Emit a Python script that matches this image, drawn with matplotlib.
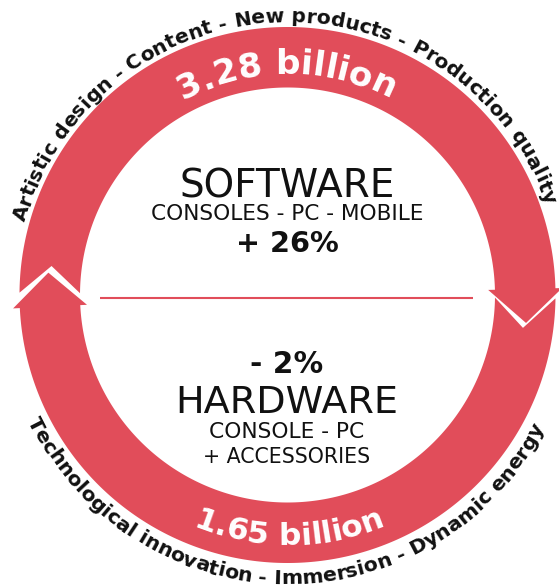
import numpy as np
import matplotlib
matplotlib.use("Agg")
import matplotlib.pyplot as plt
from matplotlib.patches import Polygon
from matplotlib.font_manager import FontProperties, findfont, get_font

# video game market: revenue (billion) and yearly growth (%) per segment
segments = ["SOFTWARE", "HARDWARE"]
platforms = [["CONSOLES - PC - MOBILE"], ["CONSOLE - PC", "+ ACCESSORIES"]]
revenue_billion = [3.28, 1.65]
growth_pct = [26, -2]
drivers = [
    "Artistic design - Content - New products - Production quality",
    "Technological innovation - Immersion - Dynamic energy",
]

W, H, DPI = 559, 588, 100
RED = "#E14D5A"
INK = "#111111"
FAMILY = "DejaVu Sans"

CX, CY = 287.5, 293.0
R_OUT, R_IN = 268.0, 207.5
R_MID = (R_OUT + R_IN) / 2


def text_advances(s, weight):
    # glyph advances in px for a 1 pt font
    font = get_font(findfont(FontProperties(family=FAMILY, weight=weight)))
    font.set_size(100, DPI)
    adv = [font.load_char(ord(c)).linearHoriAdvance / 65536 for c in s]
    return np.array(adv) / 100


def fit_size(s, weight, width):
    return width / text_advances(s, weight).sum()


def curved_text(ax, s, radius, center_deg, length, weight, color, outward=True):
    adv = text_advances(s, weight)
    size = length / adv.sum()
    adv = adv * size
    mids = np.cumsum(adv) - adv / 2
    for ch, m in zip(s, mids):
        if ch == " ":
            continue
        if outward:
            th = np.radians(center_deg) + (length / 2 - m) / radius
            rot = np.degrees(th) - 90
        else:
            th = np.radians(center_deg) + (m - length / 2) / radius
            rot = np.degrees(th) + 90
        ax.text(CX + radius * np.cos(th), CY + radius * np.sin(th), ch,
                fontsize=size, fontweight=weight, family=FAMILY, color=color,
                rotation=rot, rotation_mode="anchor", ha="center", va="baseline")


def ring_arc(theta_tail, theta_head, notch, head_len, head_half):
    # band running clockwise from a notched tail to an arrow head
    c = np.array([CX, CY])
    th = np.radians(np.linspace(theta_tail, theta_head, 240))
    outer = np.c_[CX + R_OUT * np.cos(th), CY + R_OUT * np.sin(th)]
    inner = np.c_[CX + R_IN * np.cos(th), CY + R_IN * np.sin(th)][::-1]
    tb = np.radians(theta_head)
    radial = np.array([np.cos(tb), np.sin(tb)])
    tangent = np.array([np.sin(tb), -np.cos(tb)])
    head = [c + (R_MID + head_half) * radial,
            c + R_MID * radial + head_len * tangent,
            c + (R_MID - head_half) * radial]
    ta = np.radians(theta_tail) - notch / R_MID
    apex = c + R_MID * np.array([np.cos(ta), np.sin(ta)])
    pts = np.vstack([outer, head, inner, apex])
    return Polygon(pts, closed=True, facecolor=RED, edgecolor="none")


def centered_text(ax, y, s, width, weight="normal"):
    ax.text(287, y, s, fontsize=fit_size(s, weight, width), fontweight=weight,
            family=FAMILY, color=INK, ha="center", va="baseline")


def growth_label(g):
    return f"+ {g}%" if g > 0 else f"- {abs(g)}%"


fig = plt.figure(figsize=(W / DPI, H / DPI), dpi=DPI)
ax = fig.add_axes([0, 0, 1, 1])
ax.set_xlim(0, W)
ax.set_ylim(0, H)
ax.set_aspect("equal")
ax.axis("off")

ax.add_patch(ring_arc(179.5, 1.45, 27, 34, 37))
ax.add_patch(ring_arc(-0.72, -177.2, 30, 34, 37))

ax.plot([100, 473], [290, 290], color=RED, lw=1.5, solid_capstyle="butt")

# revenue on the ring
curved_text(ax, f"{revenue_billion[0]:.2f} billion", 221, 90.25, 216, "bold", "white")
curved_text(ax, f"{revenue_billion[1]:.2f} billion", 250, -89.6, 198, "bold", "white",
            outward=False)

# growth drivers around the ring
curved_text(ax, drivers[0], 273, 91.8, 692, "bold", INK)
curved_text(ax, drivers[1], 289, -90.8, 640, "bold", INK, outward=False)

# software block
centered_text(ax, 391, segments[0], 218)
centered_text(ax, 368, platforms[0][0], 273)
centered_text(ax, 336, growth_label(growth_pct[0]), 103, "bold")

# hardware block
centered_text(ax, 215, growth_label(growth_pct[1]), 73, "bold")
centered_text(ax, 175, segments[1], 225)
centered_text(ax, 150, platforms[1][0], 155)
centered_text(ax, 125, platforms[1][1], 168)

fig.savefig("out.png", dpi=DPI)
